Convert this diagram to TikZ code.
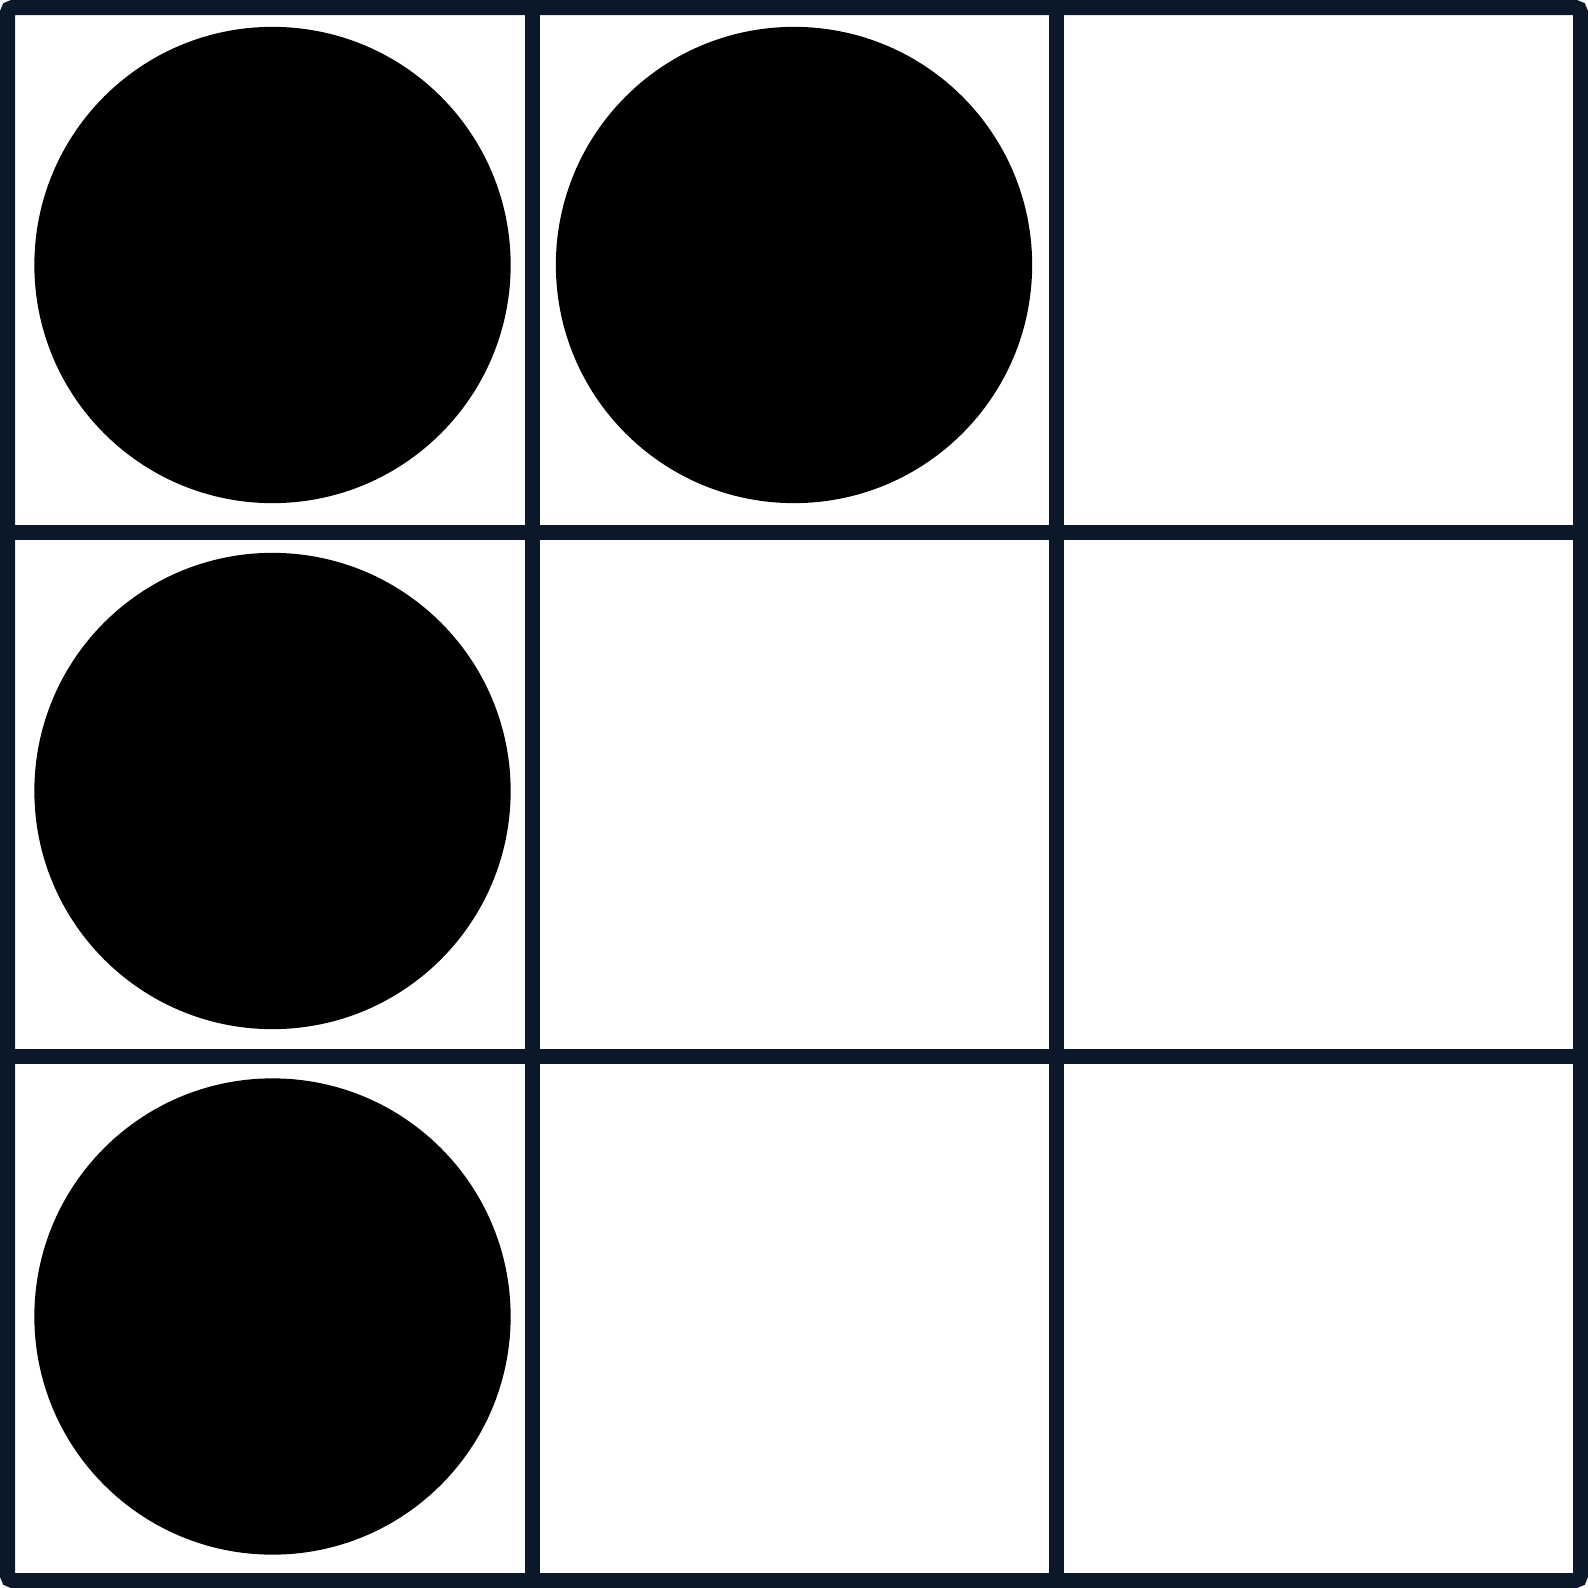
\documentclass[tikz,border=0pt]{standalone}
\usepackage{tikz}
\usetikzlibrary{positioning}
\definecolor{gnavy}{RGB}{10,24,42}

\begin{document}
\begin{tikzpicture}[x=0.01cm, y=-0.01cm,
  gridline/.style={line width=0.15cm, draw=gnavy},
  dot/.style={
    circle, fill=black, draw=none,
    minimum size=4.76cm, inner sep=0pt
  }
]
  \useasboundingbox (0,0) rectangle (1588,1588);

  % grid
  \foreach \k in {532,1056} {
    \draw[gridline] (\k,7.5) -- (\k,1580.5);
    \draw[gridline] (7.5,\k) -- (1580.5,\k);
  }
  \draw[gridline, rounded corners=0.05cm] (7.5,7.5) rectangle (1580.5,1580.5);

  % dots
  \node[dot] (d11) at (272.5,265) {};
  \node[dot] (d12) at (794,265) {};
  \node[dot] (d21) at (272.5,791) {};
  \node[dot] (d31) at (272.5,1316.5) {};
\end{tikzpicture}
\end{document}
